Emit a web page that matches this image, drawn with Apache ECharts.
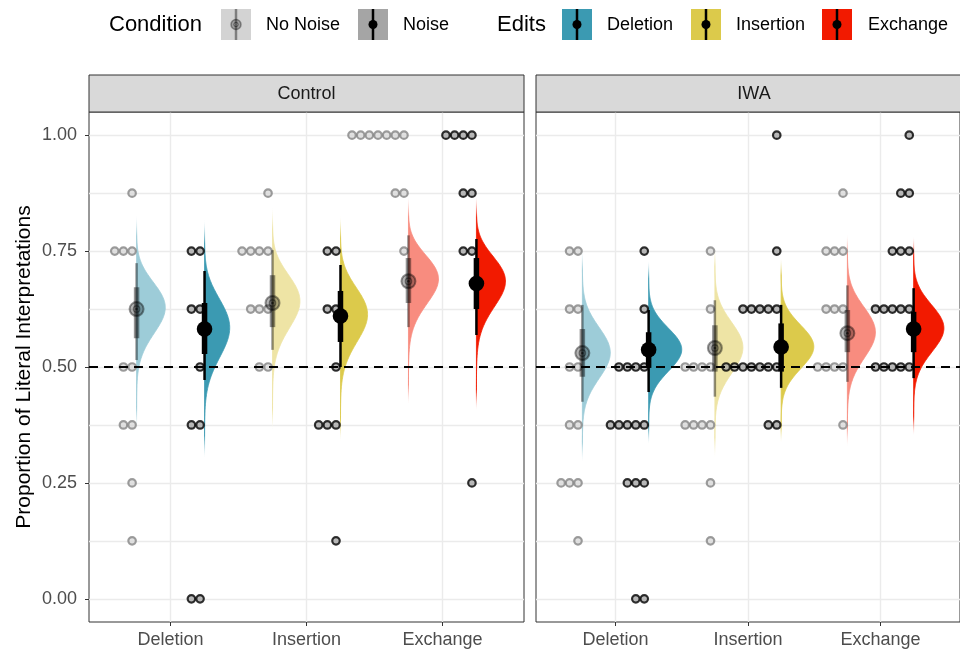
<!DOCTYPE html>
<html>
<head>
<meta charset="utf-8">
<script src="https://cdn.jsdelivr.net/npm/echarts@6/dist/echarts.min.js"></script>
<style>
html,body{margin:0;padding:0;background:#ffffff;}
#chart{width:960px;height:651px;}
</style>
</head>
<body>
<div id="chart"></div>
<script>
// ---------------- DATA ----------------
const panels = ['Control', 'IWA'];
const edits = ['Deletion', 'Insertion', 'Exchange'];
const conditions = ['No Noise', 'Noise'];
const yTicks = [0, 0.25, 0.5, 0.75, 1];
const yGrid = [0, 0.125, 0.25, 0.375, 0.5, 0.625, 0.75, 0.875, 1];
const chanceLevel = 0.5;

// participant proportions (dots)
const controlDeletionNoNoise = [0.875, 0.75, 0.75, 0.75, 0.5, 0.5, 0.375, 0.375, 0.25, 0.125];
const controlDeletionNoise = [0.75, 0.75, 0.625, 0.625, 0.5, 0.375, 0.375, 0, 0];
const controlInsertionNoNoise = [0.875, 0.75, 0.75, 0.75, 0.75, 0.625, 0.625, 0.625, 0.5, 0.5];
const controlInsertionNoise = [0.75, 0.75, 0.625, 0.625, 0.5, 0.375, 0.375, 0.375, 0.125];
const controlExchangeNoNoise = [1, 1, 1, 1, 1, 1, 1, 0.875, 0.875, 0.75];
const controlExchangeNoise = [1, 1, 1, 1, 0.875, 0.875, 0.75, 0.75, 0.25];

const iwaDeletionNoNoise = [0.75, 0.75, 0.625, 0.625, 0.5, 0.5, 0.375, 0.375, 0.25, 0.25, 0.25, 0.125];
const iwaDeletionNoise = [0.75, 0.625, 0.5, 0.5, 0.5, 0.5, 0.375, 0.375, 0.375, 0.375, 0.375, 0.25, 0.25, 0.25, 0, 0];
const iwaInsertionNoNoise = [0.75, 0.625, 0.5, 0.5, 0.5, 0.5, 0.375, 0.375, 0.375, 0.375, 0.25, 0.125];
const iwaInsertionNoise = [1, 0.75, 0.625, 0.625, 0.625, 0.625, 0.625, 0.5, 0.5, 0.5, 0.5, 0.5, 0.5, 0.5, 0.375, 0.375];
const iwaExchangeNoNoise = [0.875, 0.75, 0.75, 0.75, 0.625, 0.625, 0.625, 0.5, 0.5, 0.5, 0.5, 0.375];
const iwaExchangeNoise = [1, 0.875, 0.875, 0.75, 0.75, 0.75, 0.625, 0.625, 0.625, 0.625, 0.625, 0.5, 0.5, 0.5, 0.5, 0.5];

// model estimates, order: Del/NoNoise, Del/Noise, Ins/NoNoise, Ins/Noise, Exc/NoNoise, Exc/Noise
const controlEstimate = [0.625, 0.582, 0.638, 0.61, 0.685, 0.68];
const controlInner = [[0.562, 0.672], [0.528, 0.638], [0.586, 0.698], [0.554, 0.664], [0.638, 0.735], [0.625, 0.735]];
const controlOuter = [[0.515, 0.724], [0.472, 0.707], [0.537, 0.752], [0.50, 0.72], [0.586, 0.784], [0.569, 0.776]];
const iwaEstimate = [0.53, 0.537, 0.541, 0.543, 0.573, 0.582];
const iwaInner = [[0.479, 0.582], [0.498, 0.575], [0.49, 0.59], [0.49, 0.594], [0.532, 0.623], [0.532, 0.619]];
const iwaOuter = [[0.425, 0.634], [0.446, 0.623], [0.436, 0.644], [0.455, 0.634], [0.468, 0.676], [0.476, 0.670]];

// ---------------- STYLE ----------------
const editColors = ['#3B9AB2', '#DCCA4B', '#F21A00'];
const editColorsLight = ['#9DCCD8', '#EEE4A5', '#F88C7F'];
const FONT = 'Liberation Sans, Arial, sans-serif';
const DODGE = 0.25;
const DOT_FIRST = 0.033, DOT_STEP = 0.0637;
const SLAB_MAX = 0.25;
const SLAB_RANGE = 4.6;

function logit(p) { return Math.log(p / (1 - p)); }
function invlogit(x) { return 1 / (1 + Math.exp(-x)); }

const panelData = [
  { dots: [controlDeletionNoNoise, controlDeletionNoise, controlInsertionNoNoise, controlInsertionNoise, controlExchangeNoNoise, controlExchangeNoise],
    est: controlEstimate, inner: controlInner, outer: controlOuter },
  { dots: [iwaDeletionNoNoise, iwaDeletionNoise, iwaInsertionNoNoise, iwaInsertionNoise, iwaExchangeNoNoise, iwaExchangeNoise],
    est: iwaEstimate, inner: iwaInner, outer: iwaOuter }
];

const groups = [];
panelData.forEach((pd, p) => {
  for (let e = 0; e < 3; e++) {
    for (let c = 0; c < 2; c++) {
      const i = e * 2 + c;
      const mu = logit(pd.est[i]);
      const sd = (logit(pd.outer[i][1]) - logit(pd.outer[i][0])) / (2 * 1.96);
      groups.push({ p, e, c, x: e + 1 + (c === 0 ? -DODGE : DODGE), est: pd.est[i],
        inner: pd.inner[i], outer: pd.outer[i], mu, sd, dots: pd.dots[i] });
    }
  }
});
function dens(g, z) {
  const p = invlogit(g.mu + g.sd * z);
  return { p, d: Math.exp(-z * z / 2) / Math.sqrt(2 * Math.PI) / (g.sd * p * (1 - p)) };
}
let maxPeak = 0;
groups.forEach(g => { for (let k = 0; k <= 200; k++) { const r = dens(g, -4 + 8 * k / 200); if (r.d > maxPeak) maxPeak = r.d; } });
const slabScale = SLAB_MAX / maxPeak;

function slabRender(params, api) {
  const g = groups[api.value(2)];
  const pts = [];
  const N = 180;
  const lo = invlogit(g.mu - SLAB_RANGE * g.sd), hi = invlogit(g.mu + SLAB_RANGE * g.sd);
  pts.push(api.coord([g.x, lo]));
  for (let k = 0; k <= N; k++) {
    const r = dens(g, -SLAB_RANGE + 2 * SLAB_RANGE * k / N);
    pts.push(api.coord([g.x + r.d * slabScale, r.p]));
  }
  pts.push(api.coord([g.x, hi]));
  const col = g.c === 0 ? editColorsLight[g.e] : editColors[g.e];
  const grad = () => new echarts.graphic.LinearGradient(0, 0, 0, 1, [
    { offset: 0, color: 'rgba(255,255,255,0)' },
    { offset: 0.1, color: col },
    { offset: 0.9, color: col },
    { offset: 1, color: 'rgba(255,255,255,0)' }
  ]);
  return {
    type: 'polygon',
    shape: { points: pts },
    style: { fill: grad(), stroke: grad(), lineWidth: 0.8 }
  };
}

function intervalRender(params, api) {
  const g = groups[api.value(2)];
  const o0 = api.coord([g.x, g.outer[0]]), o1 = api.coord([g.x, g.outer[1]]);
  const i0 = api.coord([g.x, g.inner[0]]), i1 = api.coord([g.x, g.inner[1]]);
  const pt = api.coord([g.x, g.est]);
  const col = g.c === 0 ? 'rgba(0,0,0,0.42)' : '#000000';
  const children = [
    { type: 'line', shape: { x1: o0[0], y1: o0[1], x2: o1[0], y2: o1[1] }, style: { stroke: col, lineWidth: 2.5 } },
    { type: 'line', shape: { x1: i0[0], y1: i0[1], x2: i1[0], y2: i1[1] }, style: { stroke: col, lineWidth: 5.5 } }
  ];
  if (g.c === 0) {
    children.push({ type: 'circle', shape: { cx: pt[0], cy: pt[1], r: 7 }, style: { fill: 'rgba(0,0,0,0.3)', stroke: 'rgba(0,0,0,0.4)', lineWidth: 2 } });
    children.push({ type: 'circle', shape: { cx: pt[0], cy: pt[1], r: 3.2 }, style: { fill: 'none', stroke: 'rgba(0,0,0,0.4)', lineWidth: 1.2 } });
    children.push({ type: 'circle', shape: { cx: pt[0], cy: pt[1], r: 1.2 }, style: { fill: 'rgba(0,0,0,0.6)' } });
  } else {
    children.push({ type: 'circle', shape: { cx: pt[0], cy: pt[1], r: 7.8 }, style: { fill: '#000000' } });
  }
  return { type: 'group', children };
}

function dotData(p, c) {
  const out = [];
  groups.filter(g => g.p === p && g.c === c).forEach(g => {
    const seen = {};
    g.dots.forEach(v => {
      const k = seen[v] || 0;
      seen[v] = k + 1;
      out.push([g.x - DOT_FIRST - k * DOT_STEP, v]);
    });
  });
  return out;
}

// ---------------- OPTION ----------------
const gridDefs = [
  { left: 89, top: 112, width: 435, height: 510 },
  { left: 536, top: 112, width: 436, height: 510 }
];
const gridLine = { color: '#EBEBEB', width: 1.4 };

const xAxes = gridDefs.map((gd, p) => ({
  type: 'value', gridIndex: p, min: 0.4, max: 3.6, position: 'bottom',
  axisLine: { show: false, onZero: false },
  axisTick: { show: true, inside: false, customValues: [1, 2, 3], length: 4, lineStyle: { color: '#333333', width: 1 } },
  axisLabel: { show: true, customValues: [1, 2, 3], formatter: v => edits[Math.round(v) - 1],
    color: '#4D4D4D', fontSize: 18, fontFamily: FONT, margin: 9 },
  splitLine: { show: true, lineStyle: gridLine }
}));

const yAxes = [
  { type: 'value', gridIndex: 0, min: -0.05, max: 1.05, position: 'left',
    axisLine: { show: false, onZero: false },
    axisTick: { show: true, customValues: yTicks, length: 4, lineStyle: { color: '#333333', width: 1 } },
    axisLabel: { show: true, customValues: yTicks, formatter: v => v.toFixed(2), color: '#4D4D4D',
      fontSize: 18, fontFamily: FONT, margin: 12 },
    splitLine: { show: false },
    name: 'Proportion of Literal Interpretations', nameLocation: 'middle', nameGap: 54, nameRotate: 90,
    nameTextStyle: { fontSize: 21, fontFamily: FONT, color: '#000000' } },
  { type: 'value', gridIndex: 0, min: -0.05, max: 1.05, position: 'left',
    axisLine: { show: false, onZero: false }, axisTick: { show: false, customValues: yGrid }, axisLabel: { show: false },
    splitLine: { show: true, lineStyle: gridLine } },
  { type: 'value', gridIndex: 1, min: -0.05, max: 1.05, position: 'left',
    axisLine: { show: false, onZero: false }, axisTick: { show: false, customValues: yGrid }, axisLabel: { show: false },
    splitLine: { show: true, lineStyle: gridLine } }
];

const series = [];
[0, 1].forEach(p => {
  const yi = p === 0 ? 0 : 2;
  const gdata = groups.map((g, i) => [g.x, g.est, i]).filter((d, i) => groups[i].p === p);
  series.push({ type: 'custom', name: 'slab' + p, xAxisIndex: p, yAxisIndex: yi, z: 2, silent: true,
    renderItem: slabRender, data: gdata, encode: { x: 0, y: 1 }, clip: false });
  series.push({ type: 'scatter', name: conditions[0] + p, xAxisIndex: p, yAxisIndex: yi, z: 3, silent: true,
    symbol: 'circle', symbolSize: 7.5, data: dotData(p, 0),
    itemStyle: { color: '#D9D9D9', borderColor: '#858585', borderWidth: 2.2 } });
  series.push({ type: 'scatter', name: conditions[1] + p, xAxisIndex: p, yAxisIndex: yi, z: 3, silent: true,
    symbol: 'circle', symbolSize: 7.5, data: dotData(p, 1),
    itemStyle: { color: '#A8A8A8', borderColor: '#000000', borderWidth: 2.2 } });
  series.push({ type: 'custom', name: 'interval' + p, xAxisIndex: p, yAxisIndex: yi, z: 4, silent: true,
    renderItem: intervalRender, data: gdata, encode: { x: 0, y: 1 }, clip: false });
  series.push({ type: 'line', name: 'chance' + p, xAxisIndex: p, yAxisIndex: yi, z: 6, data: [], silent: true,
    markLine: { silent: true, symbol: ['none', 'none'], label: { show: false },
      lineStyle: { color: '#000000', width: 1.9, type: [9, 6] }, data: [{ yAxis: chanceLevel }], animation: false } });
});

// strips and legend (graphic)
const graphic = [];
gridDefs.forEach((gd, p) => {
  graphic.push({ type: 'rect', shape: { x: gd.left, y: 75, width: gd.width, height: 37 },
    style: { fill: '#D9D9D9', stroke: '#333333', lineWidth: 1 }, z: 10 });
  graphic.push({ type: 'text', x: gd.left + gd.width / 2, y: 94, z: 11,
    style: { text: panels[p], font: '18px ' + FONT, fill: '#1A1A1A', textAlign: 'center', textVerticalAlign: 'middle' } });
});
function legendKey(x, fill, lineCol, pointStyle) {
  graphic.push({ type: 'rect', shape: { x: x, y: 9, width: 30, height: 31 }, style: { fill: fill }, z: 10 });
  graphic.push({ type: 'line', shape: { x1: x + 15, y1: 9, x2: x + 15, y2: 40 }, style: { stroke: lineCol, lineWidth: 2.5 }, z: 11 });
  pointStyle.forEach(s => graphic.push(Object.assign({ z: 12 }, s(x + 15, 24.5))));
}
const blackPt = (cx, cy) => ({ type: 'circle', shape: { cx, cy, r: 4.5 }, style: { fill: '#000000' } });
const grayPt1 = (cx, cy) => ({ type: 'circle', shape: { cx, cy, r: 5 }, style: { fill: 'rgba(0,0,0,0.25)', stroke: 'rgba(0,0,0,0.35)', lineWidth: 1.5 } });
const grayPt2 = (cx, cy) => ({ type: 'circle', shape: { cx, cy, r: 2.2 }, style: { fill: 'none', stroke: 'rgba(0,0,0,0.4)', lineWidth: 1 } });
function legendText(x, txt, size) {
  graphic.push({ type: 'text', x: x, y: 25, z: 11,
    style: { text: txt, font: size + 'px ' + FONT, fill: '#000000', textAlign: 'left', textVerticalAlign: 'middle' } });
}
legendText(109, 'Condition', 22);
legendKey(221, '#D3D3D3', 'rgba(0,0,0,0.4)', [grayPt1, grayPt2]);
legendText(266, conditions[0], 18);
legendKey(358, '#A5A5A5', '#000000', [blackPt]);
legendText(403, conditions[1], 18);
legendText(497, 'Edits', 22);
const keyX = [562, 691, 822], labX = [607, 736, 868];
edits.forEach((e, i) => { legendKey(keyX[i], editColors[i], '#000000', [blackPt]); legendText(labX[i], e, 18); });

const option = {
  animation: false,
  backgroundColor: '#ffffff',
  grid: gridDefs.map(gd => Object.assign({ show: true, borderColor: '#333333', borderWidth: 1, backgroundColor: 'transparent', containLabel: false }, gd)),
  xAxis: xAxes,
  yAxis: yAxes,
  series: series,
  graphic: graphic
};

const chart = echarts.init(document.getElementById('chart'), null, { renderer: 'canvas' });
chart.setOption(option);
</script>
</body>
</html>
